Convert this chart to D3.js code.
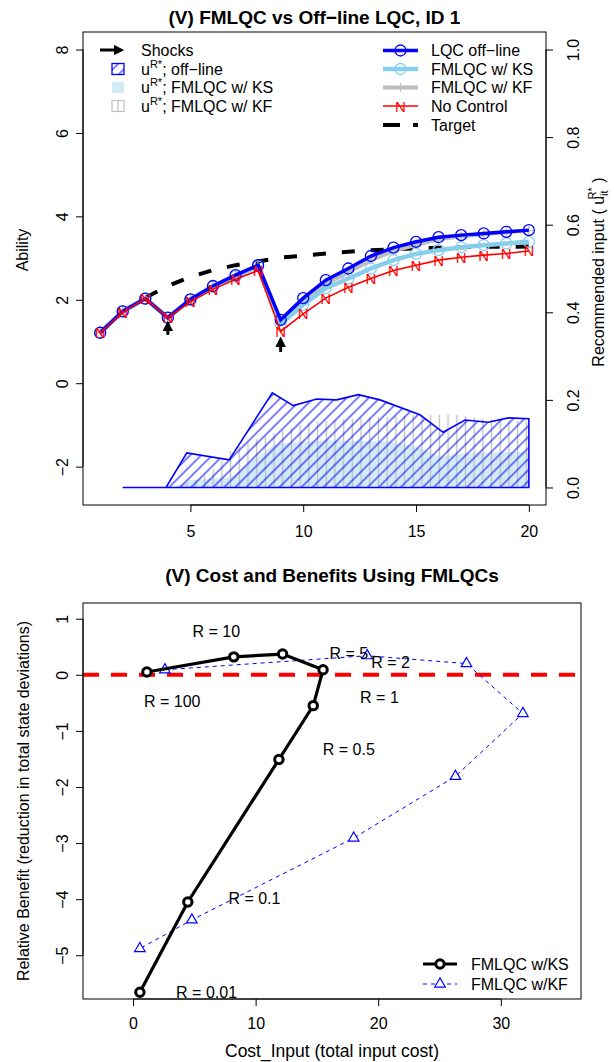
<!DOCTYPE html>
<html>
<head>
<meta charset="utf-8">
<script src="https://cdnjs.cloudflare.com/ajax/libs/d3/7.8.5/d3.min.js"></script>
<style>
  body { margin: 0; background: #fff; }
  svg { font-family: "Liberation Sans", Arial, sans-serif; }
</style>
</head>
<body>
<div id="chart"></div>
<script>
// ---- top panel data (time 1..20) ----
const time = d3.range(1, 21);
const lqcOffline = [1.21, 1.72, 2.03, 1.57, 2.01, 2.33, 2.59, 2.83, 1.52, 2.04, 2.47, 2.75, 3.05, 3.25, 3.39, 3.50, 3.55, 3.59, 3.63, 3.67];
const fmlqcKS    = [1.21, 1.72, 2.03, 1.57, 2.00, 2.31, 2.56, 2.80, 1.42, 1.88, 2.28, 2.51, 2.75, 2.95, 3.10, 3.19, 3.26, 3.31, 3.35, 3.39];
const fmlqcKF    = [1.22, 1.73, 2.05, 1.58, 2.02, 2.33, 2.58, 2.82, 1.45, 1.95, 2.38, 2.66, 2.95, 3.17, 3.32, 3.45, 3.52, 3.57, 3.62, 3.66];
const noControl  = [1.21, 1.70, 2.03, 1.57, 1.95, 2.25, 2.49, 2.70, 1.24, 1.66, 2.04, 2.30, 2.51, 2.70, 2.83, 2.95, 3.02, 3.07, 3.11, 3.17];
const target     = [1.21, 1.72, 2.05, 2.33, 2.55, 2.71, 2.83, 2.92, 3.01, 3.06, 3.11, 3.15, 3.19, 3.21, 3.23, 3.25, 3.26, 3.27, 3.27, 3.28];

const shockT = [4, 9];
const shockFrom = [1.16, 0.75];
const shockTo = [1.47, 1.09];

// recommended input polygons (right axis)
const uOffT = [2, 3.92, 4.84, 6.72, 8.63, 9.56, 10.6, 11.48, 12.44, 13.4, 15.17, 16.2, 17.17, 18.2, 19.1, 20];
const uOffV = [0, 0, 0.079, 0.063, 0.216, 0.187, 0.202, 0.200, 0.212, 0.200, 0.166, 0.126, 0.154, 0.149, 0.159, 0.157];
const uKsT = [4.2, 5, 6.75, 7.9, 8.8, 10.9, 13.85, 15.03, 16.06, 17.2, 20];
const uKsV = [0, 0.017, 0.022, 0.067, 0.100, 0.108, 0.105, 0.093, 0.070, 0.079, 0.082];
const uKfT = [4.5, 5.8, 6.75, 7.9, 8.9, 10.1, 11.7, 13.1, 15.3, 16.8, 18.2, 20];
const uKfV = [0, 0.03, 0.082, 0.110, 0.127, 0.147, 0.156, 0.160, 0.166, 0.166, 0.156, 0.150];

// ---- bottom panel data ----
const ksCost    = [1.13, 8.22, 12.2, 15.5, 14.7, 11.9, 4.47, 0.56];
const ksBenefit = [0.05, 0.32, 0.37, 0.09, -0.55, -1.51, -4.05, -5.66];
const kfCost    = [2.6, 19.1, 27.2, 31.8, 26.3, 18.0, 4.8, 0.56];
const kfBenefit = [0.09, 0.34, 0.20, -0.69, -1.81, -2.91, -4.37, -4.88];
const rLabels = ["R = 10", "R = 5", "R = 2", "R = 100", "R = 1", "R = 0.5", "R = 0.1", "R = 0.01"];
const rLabelX = [6.8, 17.6, 21.0, 3.2, 20.1, 17.6, 9.9, 6.0];
const rLabelY = [0.78, 0.38, 0.23, -0.46, -0.39, -1.33, -3.98, -5.66];

const FONT = 16;
const svg = d3.select("#chart").append("svg")
    .attr("width", 614)
    .attr("height", 1062);
svg.append("rect").attr("width", 614).attr("height", 1062).attr("fill", "#fff");

const defs = svg.append("defs");
defs.append("pattern")
    .attr("id", "hatchBlue")
    .attr("patternUnits", "userSpaceOnUse")
    .attr("width", 7.8).attr("height", 7.8)
    .attr("patternTransform", "rotate(45)")
  .append("line")
    .attr("x1", 3.9).attr("y1", 0).attr("x2", 3.9).attr("y2", 7.8)
    .attr("stroke", "#0000ff").attr("stroke-width", 1);
defs.append("pattern")
    .attr("id", "hatchGrey")
    .attr("patternUnits", "userSpaceOnUse")
    .attr("width", 8.7).attr("height", 10)
  .append("line")
    .attr("x1", 4.35).attr("y1", 0).attr("x2", 4.35).attr("y2", 10)
    .attr("stroke", "#bebebe").attr("stroke-width", 1.3);
defs.append("marker")
    .attr("id", "arrowHead")
    .attr("viewBox", "0 0 10 10")
    .attr("refX", 5).attr("refY", 5)
    .attr("markerWidth", 3.5).attr("markerHeight", 3.5)
    .attr("markerUnits", "strokeWidth")
    .attr("orient", "auto")
  .append("path")
    .attr("d", "M0,0 L10,5 L0,10 Z")
    .attr("fill", "#000");

// R-style axis: ticks outward, rotated labels on y axes
function drawAxis(g, scale, side, values, fmt, offset) {
  const ax = side === "left" ? d3.axisLeft(scale) : side === "right" ? d3.axisRight(scale) : d3.axisBottom(scale);
  ax.tickValues(values).tickSize(7).tickFormat(fmt || (d => d3.format("")(d).replace("-", "\u2212")));
  g.call(ax);
  g.select(".domain").remove();
  g.selectAll(".tick line").attr("stroke", "#000");
  const txt = g.selectAll(".tick text").attr("fill", "#000").attr("font-size", FONT).attr("dy", null);
  if (side === "left") {
    txt.attr("transform", "rotate(-90)").attr("x", 0).attr("y", -offset).attr("text-anchor", "middle");
  } else if (side === "right") {
    txt.attr("transform", "rotate(-90)").attr("x", 0).attr("y", offset).attr("text-anchor", "middle");
  } else {
    txt.attr("y", offset).attr("text-anchor", "middle");
  }
  // line between first and last tick
  const a = scale(values[0]), b = scale(values[values.length - 1]);
  if (side === "bottom") g.append("line").attr("x1", a).attr("x2", b).attr("stroke", "#000");
  else g.append("line").attr("y1", a).attr("y2", b).attr("stroke", "#000");
  g.attr("font-family", null);
}

// ================= TOP PANEL =================
const T = {left: 83, right: 546, top: 32, bottom: 505};
const x1 = d3.scaleLinear().domain([0.24, 20.76]).range([T.left, T.right]);
const yL = d3.scaleLinear().domain([-2.92, 8.42]).range([T.bottom, T.top]);
const yR = d3.scaleLinear().domain([-0.04, 1.04]).range([T.bottom, T.top]);

const topG = svg.append("g");

// input polygons
const uArea = d3.area().x(d => x1(d[0])).y0(yR(0)).y1(d => yR(d[1]));
topG.append("path")
    .attr("d", uArea(d3.zip(uKsT, uKsV)))
    .attr("fill", "#d2ebf6");
topG.append("path")
    .attr("d", uArea(d3.zip(uKfT, uKfV)))
    .attr("fill", "url(#hatchGrey)");
topG.append("path")
    .attr("d", uArea(d3.zip(uOffT, uOffV)))
    .attr("fill", "url(#hatchBlue)")
    .attr("stroke", "#0000ff")
    .attr("stroke-width", 1.6);

const line1 = d3.line().x((d, i) => x1(time[i])).y(d => yL(d));

// target
topG.append("path")
    .attr("d", line1(target))
    .attr("fill", "none").attr("stroke", "#000")
    .attr("stroke-width", 4).attr("stroke-dasharray", "13,16");

// KF grey
topG.append("path").attr("d", line1(fmlqcKF))
    .attr("fill", "none").attr("stroke", "#bebebe").attr("stroke-width", 4);
topG.append("g").selectAll("path").data(fmlqcKF).join("path")
    .attr("d", (d, i) => `M${x1(time[i]) - 4.5},${yL(d)}h9M${x1(time[i])},${yL(d) - 4.5}v9`)
    .attr("stroke", "#bebebe").attr("stroke-width", 1.3);

// KS light blue
topG.append("path").attr("d", line1(fmlqcKS))
    .attr("fill", "none").attr("stroke", "#87ceeb").attr("stroke-width", 4.5);
topG.append("g").selectAll("circle").data(fmlqcKS).join("circle")
    .attr("cx", (d, i) => x1(time[i])).attr("cy", d => yL(d)).attr("r", 5.5)
    .attr("fill", "none").attr("stroke", "#87ceeb").attr("stroke-width", 1.3);

// LQC offline blue
topG.append("path").attr("d", line1(lqcOffline))
    .attr("fill", "none").attr("stroke", "#0000ff").attr("stroke-width", 3.5);
topG.append("g").selectAll("circle").data(lqcOffline).join("circle")
    .attr("cx", (d, i) => x1(time[i])).attr("cy", d => yL(d)).attr("r", 5.5)
    .attr("fill", "none").attr("stroke", "#0000ff").attr("stroke-width", 1.3);

// no control red
topG.append("path").attr("d", line1(noControl))
    .attr("fill", "none").attr("stroke", "#ff0000").attr("stroke-width", 1.6);
topG.append("g").selectAll("text").data(noControl).join("text")
    .attr("x", (d, i) => x1(time[i])).attr("y", d => yL(d) + 5.5)
    .attr("text-anchor", "middle").attr("font-size", 15)
    .attr("fill", "#ff0000").text("N");

// shocks
topG.append("g").selectAll("line").data(shockT).join("line")
    .attr("x1", d => x1(d)).attr("x2", d => x1(d))
    .attr("y1", (d, i) => yL(shockFrom[i])).attr("y2", (d, i) => yL(shockTo[i]) + 4)
    .attr("stroke", "#000").attr("stroke-width", 3)
    .attr("marker-end", "url(#arrowHead)");

// box + axes
topG.append("rect").attr("x", T.left).attr("y", T.top)
    .attr("width", T.right - T.left).attr("height", T.bottom - T.top)
    .attr("fill", "none").attr("stroke", "#000");
drawAxis(topG.append("g").attr("transform", `translate(${T.left},0)`), yL, "left", [-2, 0, 2, 4, 6, 8], null, 15);
drawAxis(topG.append("g").attr("transform", `translate(${T.right},0)`), yR, "right", [0, 0.2, 0.4, 0.6, 0.8, 1.0], d3.format(".1f"), 33);
drawAxis(topG.append("g").attr("transform", `translate(0,${T.bottom})`), x1, "bottom", [5, 10, 15, 20], null, 32);

topG.append("text")
    .attr("x", (T.left + T.right) / 2).attr("y", 24)
    .attr("text-anchor", "middle").attr("font-size", 19).attr("font-weight", "bold")
    .text("(V) FMLQC vs Off\u2212line LQC, ID 1");
topG.append("text")
    .attr("transform", "rotate(-90)")
    .attr("x", -250).attr("y", 28)
    .attr("text-anchor", "middle").attr("font-size", FONT)
    .text("Ability");
const rlab = topG.append("text")
    .attr("transform", "rotate(-90)")
    .attr("x", -272).attr("y", 604)
    .attr("text-anchor", "middle").attr("font-size", FONT);
rlab.append("tspan").text("Recommended input ( u");
rlab.append("tspan").attr("font-size", 11).attr("dy", 4).text("it");
rlab.append("tspan").attr("font-size", 11).attr("dx", -9).attr("dy", -12).text("R*");
rlab.append("tspan").attr("dy", 8).text(" )");

// left legend
const legL = topG.append("g").attr("font-size", FONT);
const legLY = [50, 69, 87.5, 106];
legL.append("line")
    .attr("x1", 100).attr("x2", 119).attr("y1", legLY[0]).attr("y2", legLY[0])
    .attr("stroke", "#000").attr("stroke-width", 3).attr("marker-end", "url(#arrowHead)");
legL.append("rect").attr("x", 112).attr("y", legLY[1] - 5.5).attr("width", 12).attr("height", 11)
    .attr("fill", "url(#hatchBlue)").attr("stroke", "#0000ff").attr("stroke-width", 1.3);
legL.append("rect").attr("x", 112).attr("y", legLY[2] - 5.5).attr("width", 12).attr("height", 11)
    .attr("fill", "#d2ebf6");
legL.append("rect").attr("x", 112).attr("y", legLY[3] - 5.5).attr("width", 12).attr("height", 11)
    .attr("fill", "none").attr("stroke", "#bebebe").attr("stroke-width", 1.2);
legL.append("line").attr("x1", 118).attr("x2", 118).attr("y1", legLY[3] - 5.5).attr("y2", legLY[3] + 5.5)
    .attr("stroke", "#bebebe").attr("stroke-width", 1.2);
legL.append("text").attr("x", 141).attr("y", legLY[0] + 5.5).text("Shocks");
["off\u2212line", "FMLQC w/ KS", "FMLQC w/ KF"].forEach((lab, i) => {
  const t = legL.append("text").attr("x", 141).attr("y", legLY[i + 1] + 5.5);
  t.append("tspan").text("u");
  t.append("tspan").attr("font-size", 11).attr("dy", -7).text("R*");
  t.append("tspan").attr("dy", 7).text("; " + lab);
});

// right legend
const legR = topG.append("g").attr("font-size", FONT);
const legRY = [50.5, 69, 87.5, 106, 125];
const legRLab = ["LQC off\u2212line", "FMLQC w/ KS", "FMLQC w/ KF", "No Control", "Target"];
const legRCol = ["#0000ff", "#87ceeb", "#bebebe", "#ff0000", "#000"];
const legRW = [3.5, 4.5, 4, 1.6, 4];
legRY.forEach((y, i) => {
  legR.append("line").attr("x1", 383).attr("x2", 418).attr("y1", y).attr("y2", y)
      .attr("stroke", legRCol[i]).attr("stroke-width", legRW[i])
      .attr("stroke-dasharray", i === 4 ? "17,13" : null);
  legR.append("text").attr("x", 431).attr("y", y + 5.5).text(legRLab[i]);
});
legR.append("circle").attr("cx", 400.5).attr("cy", legRY[0]).attr("r", 5.5)
    .attr("fill", "none").attr("stroke", "#0000ff").attr("stroke-width", 1.3);
legR.append("circle").attr("cx", 400.5).attr("cy", legRY[1]).attr("r", 5.5)
    .attr("fill", "none").attr("stroke", "#87ceeb").attr("stroke-width", 1.3);
legR.append("path").attr("d", `M396,${legRY[2]}h9M400.5,${legRY[2] - 4.5}v9`)
    .attr("stroke", "#bebebe").attr("stroke-width", 1.3);
legR.append("text").attr("x", 400.5).attr("y", legRY[3] + 5.5).attr("text-anchor", "middle")
    .attr("font-size", 15).attr("fill", "#ff0000").text("N");

// ================= BOTTOM PANEL =================
const B = {left: 83, right: 581, top: 603, bottom: 999};
const x2 = d3.scaleLinear().domain([-4.08, 36.54]).range([B.left, B.right]);
const y2 = d3.scaleLinear().domain([-5.78, 1.28]).range([B.bottom, B.top]);
const botG = svg.append("g");

botG.append("line")
    .attr("x1", B.left).attr("x2", B.right).attr("y1", y2(0)).attr("y2", y2(0))
    .attr("stroke", "#ff0000").attr("stroke-width", 4).attr("stroke-dasharray", "16,12");

const line2 = d3.line().x(d => x2(d[0])).y(d => y2(d[1]));
const ksPts = d3.zip(ksCost, ksBenefit);
const kfPts = d3.zip(kfCost, kfBenefit);

botG.append("path").attr("d", line2(kfPts))
    .attr("fill", "none").attr("stroke", "#0000ff").attr("stroke-width", 1)
    .attr("stroke-dasharray", "4,4");
const tri = d3.symbol().type(d3.symbolTriangle).size(48);
botG.append("g").selectAll("path").data(kfPts).join("path")
    .attr("transform", d => `translate(${x2(d[0])},${y2(d[1])})`)
    .attr("d", tri).attr("fill", "#fff").attr("stroke", "#0000ff").attr("stroke-width", 1.2);

botG.append("path").attr("d", line2(ksPts))
    .attr("fill", "none").attr("stroke", "#000").attr("stroke-width", 3.2);
botG.append("g").selectAll("circle").data(ksPts).join("circle")
    .attr("cx", d => x2(d[0])).attr("cy", d => y2(d[1])).attr("r", 4.2)
    .attr("fill", "#fff").attr("stroke", "#000").attr("stroke-width", 3);

botG.append("g").attr("font-size", FONT).selectAll("text").data(rLabels).join("text")
    .attr("x", (d, i) => x2(rLabelX[i])).attr("y", (d, i) => y2(rLabelY[i]) + 6)
    .attr("text-anchor", "middle").text(d => d);

botG.append("rect").attr("x", B.left).attr("y", B.top)
    .attr("width", B.right - B.left).attr("height", B.bottom - B.top)
    .attr("fill", "none").attr("stroke", "#000");
drawAxis(botG.append("g").attr("transform", `translate(${B.left},0)`), y2, "left", [-5, -4, -3, -2, -1, 0, 1], null, 15);
drawAxis(botG.append("g").attr("transform", `translate(0,${B.bottom})`), x2, "bottom", [0, 10, 20, 30], null, 30);

botG.append("text")
    .attr("x", (B.left + B.right) / 2).attr("y", 582)
    .attr("text-anchor", "middle").attr("font-size", 19).attr("font-weight", "bold")
    .text("(V) Cost and Benefits Using FMLQCs");
botG.append("text")
    .attr("x", (B.left + B.right) / 2).attr("y", 1057)
    .attr("text-anchor", "middle").attr("font-size", 17.5)
    .text("Cost_Input (total input cost)");
botG.append("text")
    .attr("transform", "rotate(-90)")
    .attr("x", -801).attr("y", 29)
    .attr("text-anchor", "middle").attr("font-size", FONT)
    .text("Relative Benefit (reduction in total state deviations)");

// bottom legend
const legB = botG.append("g").attr("font-size", FONT);
legB.append("line").attr("x1", 423).attr("x2", 457).attr("y1", 964).attr("y2", 964)
    .attr("stroke", "#000").attr("stroke-width", 3.2);
legB.append("circle").attr("cx", 440).attr("cy", 964).attr("r", 4.2)
    .attr("fill", "#fff").attr("stroke", "#000").attr("stroke-width", 3);
legB.append("line").attr("x1", 423).attr("x2", 457).attr("y1", 984).attr("y2", 984)
    .attr("stroke", "#0000ff").attr("stroke-width", 1).attr("stroke-dasharray", "4,4");
legB.append("path").attr("transform", "translate(440,984)").attr("d", tri)
    .attr("fill", "#fff").attr("stroke", "#0000ff").attr("stroke-width", 1.2);
legB.append("text").attr("x", 471).attr("y", 969.5).text("FMLQC w/KS");
legB.append("text").attr("x", 471).attr("y", 989.5).text("FMLQC w/KF");
</script>
</body>
</html>
